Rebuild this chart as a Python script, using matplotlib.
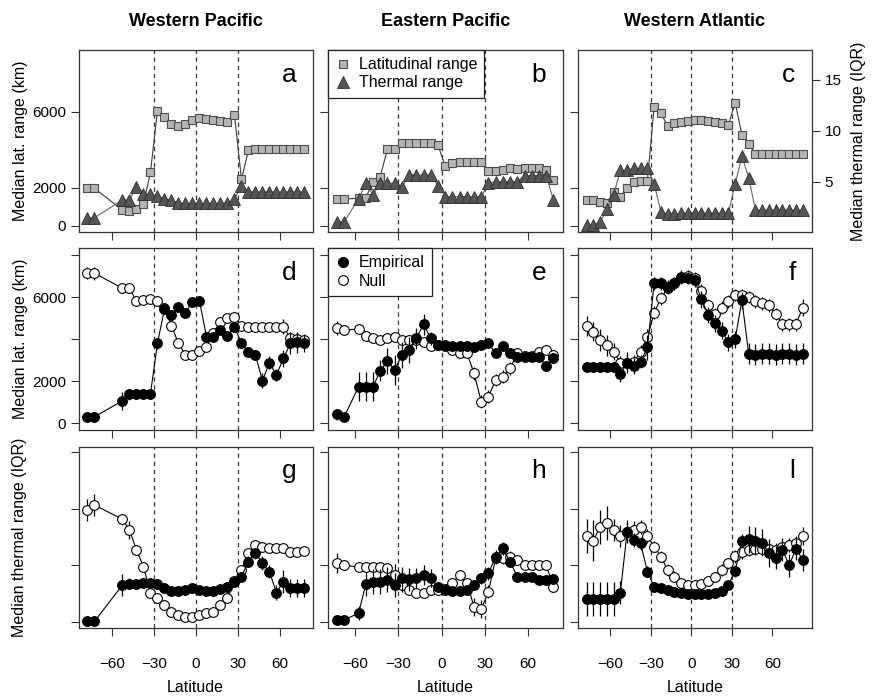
import matplotlib
matplotlib.use("Agg")
import matplotlib.pyplot as plt
from matplotlib.lines import Line2D

plt.rcParams["font.family"] = ["Liberation Sans", "DejaVu Sans"]

# ---------------- data ----------------
regions = ["Western Pacific", "Eastern Pacific", "Western Atlantic"]

# latitude bins (deg) per region
wp_lat = [-77.5, -72.5, -52.5, -47.5, -42.5, -37.5, -32.5, -27.5, -22.5, -17.5, -12.5, -7.5, -2.5,
          2.5, 7.5, 12.5, 17.5, 22.5, 27.5, 32.5, 37.5, 42.5, 47.5, 52.5, 57.5, 62.5, 67.5, 72.5, 77.5]
ep_lat = [-72.5, -67.5, -57.5, -52.5, -47.5, -42.5, -37.5, -32.5, -27.5, -22.5, -17.5, -12.5, -7.5,
          -2.5, 2.5, 7.5, 12.5, 17.5, 22.5, 27.5, 32.5, 37.5, 42.5, 47.5, 52.5, 57.5, 62.5, 67.5,
          72.5, 77.5]
wa_lat = [-77.5, -72.5, -67.5, -62.5, -57.5, -52.5, -47.5, -42.5, -37.5, -32.5, -27.5, -22.5,
          -17.5, -12.5, -7.5, -2.5, 2.5, 7.5, 12.5, 17.5, 22.5, 27.5, 32.5, 37.5, 42.5, 47.5, 52.5,
          57.5, 62.5, 67.5, 72.5, 77.5, 82.5]

# row 1: median latitudinal range (km) and median thermal range (IQR)
wp_latrange = [2000, 1980, 840, 800, 900, 1140, 2830, 6050, 5750, 5350, 5280, 5390, 5560, 5700,
               5630, 5600, 5530, 5460, 5840, 2470, 3980, 4050, 4050, 4050, 4050, 4050, 4050, 4050, 4050]
wp_thermal = [1.45, 1.45, 3.2, 3.2, 4.5, 3.75, 3.75, 3.6, 3.3, 3.2, 2.87, 2.87, 2.87, 2.87, 2.87,
              2.87, 2.87, 2.87, 3.3, 4.6, 4.0, 4.0, 4.0, 4.0, 4.0, 4.0, 4.0, 4.0, 4.0]
ep_latrange = [1420, 1420, 1460, 1490, 2330, 2600, 4050, 4050, 4350, 4370, 4370, 4370, 4370, 4260,
               3170, 3300, 3350, 3380, 3380, 3350, 2900, 2900, 2950, 3030, 2980, 3030, 3070, 3030,
               2950, 2420]
ep_thermal = [1.06, 1.06, 3.3, 4.84, 3.7, 4.84, 4.84, 4.84, 4.5, 5.65, 5.65, 5.65, 5.65, 4.6,
              3.52, 3.52, 3.52, 3.52, 3.52, 3.52, 4.84, 5.0, 5.0, 5.0, 5.0, 5.6, 5.6, 5.6, 5.6, 3.2]
wa_latrange = [1370, 1370, 1280, 1190, 1810, 1540, 2020, 2330, 2370, 2370, 6280, 5930, 5280, 5400,
               5490, 5540, 5580, 5580, 5540, 5490, 5440, 5320, 6490, 4790, 4320, 3790, 3790, 3790,
               3790, 3790, 3790, 3790, 3790]
wa_thermal = [0.74, 0.74, 1.0, 2.3, 3.7, 6.1, 6.1, 6.3, 6.3, 6.3, 4.8, 2.05, 1.8, 1.8, 1.9, 1.9,
              1.9, 1.9, 1.9, 1.9, 1.9, 1.9, 4.77, 7.5, 5.4, 2.2, 2.2, 2.2, 2.2, 2.2, 2.2, 2.2, 2.2]

# row 2: median latitudinal range (km), empirical vs null, with error bars
wp_emp_km = [310, 310, 1070, 1380, 1380, 1380, 1400, 3800, 5430, 5150, 5510, 5260, 5780, 5830, 4120,
             4090, 4430, 4150, 4590, 3800, 3400, 3250, 2030, 2880, 2300, 3090, 3800, 3850, 3800]
wp_emp_km_err = [0, 0, 430, 250, 200, 200, 150, 250, 200, 200, 200, 200, 200, 200, 200, 200, 200,
                 200, 200, 200, 200, 200, 350, 300, 300, 400, 500, 500, 400]
wp_null_km = [7150, 7130, 6420, 6420, 5810, 5860, 5910, 5810, 5500, 4640, 3800, 3250, 3250, 3450,
              3640, 4300, 4830, 4990, 5040, 4640, 4590, 4590, 4590, 4590, 4590, 4590, 4040, 4000, 3950]
wp_null_km_err = [300, 300, 200, 200, 150, 150, 150, 150, 150, 150, 150, 150, 150, 150, 150, 150,
                  150, 150, 150, 150, 150, 150, 150, 150, 150, 350, 300, 300, 300]
ep_emp_km = [430, 310, 1740, 1740, 1740, 2500, 2960, 2530, 3250, 3480, 4040, 4700, 4040, 3720, 3680,
             3680, 3680, 3680, 3650, 3720, 3800, 3330, 3670, 3330, 3170, 3170, 3170, 3170, 2720, 3090]
ep_emp_km_err = [250, 250, 700, 700, 700, 500, 600, 700, 600, 600, 500, 500, 300, 200, 150, 150,
                 150, 150, 150, 150, 200, 250, 200, 200, 150, 150, 150, 150, 250, 200]
ep_null_km = [4520, 4430, 4480, 4150, 4040, 3960, 4040, 4090, 3960, 3960, 3960, 3880, 3670, 3700,
              3700, 3500, 3350, 3350, 2380, 1030, 1270, 2060, 2220, 2610, 3330, 3200, 3200, 3400,
              3480, 3250]
ep_null_km_err = [330, 200, 150, 150, 150, 150, 150, 150, 150, 150, 150, 150, 150, 150, 150, 150,
                  200, 250, 300, 300, 300, 300, 300, 300, 250, 200, 200, 200, 200, 200]
wa_emp_km = [2660, 2660, 2660, 2660, 2660, 2340, 2880, 2720, 2930, 3610, 6650, 6650, 6490, 6650,
             6970, 6900, 6800, 5900, 5150, 4750, 4400, 3850, 4000, 5850, 3300, 3250, 3300, 3300,
             3250, 3300, 3300, 3250, 3300]
wa_emp_km_err = [150, 150, 150, 150, 150, 400, 500, 400, 300, 600, 300, 300, 300, 300, 300, 300,
                 300, 400, 400, 400, 400, 400, 400, 400, 500, 500, 500, 500, 500, 500, 500, 500, 500]
wa_null_km = [4630, 4360, 3960, 3720, 3400, 2880, 2880, 2930, 3400, 4090, 5260, 5940, 6430, 6650,
              6900, 7000, 6900, 6300, 5600, 5200, 5500, 5800, 6100, 6100, 6000, 5800, 5700, 5600,
              5200, 4700, 4700, 4700, 5500]
wa_null_km_err = [475, 450, 500, 500, 400, 300, 300, 300, 300, 400, 300, 300, 300, 300, 300, 300,
                  300, 300, 300, 300, 300, 300, 300, 300, 300, 300, 300, 300, 300, 300, 300, 300, 400]

# row 3: median thermal range (IQR), empirical vs null, with error bars
wp_emp_iqr = [0.05, 0.05, 3.27, 3.4, 3.4, 3.45, 3.45, 3.4, 2.98, 2.77, 2.77, 2.83, 2.98, 2.83, 2.77,
              2.77, 2.89, 3.12, 3.57, 4.0, 5.34, 6.08, 5.2, 4.45, 2.6, 3.57, 2.98, 3.0, 3.0]
wp_emp_iqr_err = [0.2, 0.2, 1.0, 0.5, 0.4, 0.4, 0.4, 0.4, 0.3, 0.3, 0.3, 0.3, 0.3, 0.3, 0.3, 0.3,
                  0.3, 0.3, 0.3, 0.4, 0.5, 0.5, 0.6, 0.6, 0.7, 1.0, 0.8, 0.8, 0.8]
wp_null_iqr = [9.9, 10.35, 9.09, 8.14, 6.37, 4.9, 2.54, 2.1, 1.5, 0.91, 0.62, 0.47, 0.47, 0.62, 0.77,
               0.91, 1.5, 2.1, 3.6, 4.6, 6.13, 6.8, 6.66, 6.52, 6.52, 6.52, 6.2, 6.2, 6.3]
wp_null_iqr_err = [1.0, 1.0, 0.5, 0.8, 0.4, 0.4, 0.3, 0.3, 0.3, 0.3, 0.3, 0.3, 0.3, 0.3, 0.3, 0.3,
                   0.3, 0.3, 0.3, 0.3, 0.3, 0.3, 0.3, 0.3, 0.3, 0.4, 0.3, 0.3, 0.3]
ep_emp_iqr = [0.18, 0.18, 0.77, 3.36, 3.57, 3.57, 3.72, 3.27, 3.87, 3.78, 3.87, 4.16, 3.87, 3.12,
              2.89, 2.77, 2.77, 2.83, 3.27, 3.87, 4.3, 5.78, 6.52, 5.34, 4.0, 4.0, 4.0, 3.72, 3.72, 3.78]
ep_emp_iqr_err = [0.2, 0.2, 0.6, 1.1, 1.1, 1.1, 1.1, 1.1, 1.0, 1.0, 0.9, 0.9, 0.8, 0.4, 0.3, 0.3,
                  0.3, 0.3, 0.4, 0.5, 0.6, 0.6, 0.6, 0.4, 0.3, 0.3, 0.3, 0.3, 0.3, 0.3]
ep_null_iqr = [5.19, 5.04, 4.84, 4.84, 4.84, 4.9, 4.75, 4.16, 3.27, 2.83, 2.6, 2.6, 2.83, 2.83, 2.83,
               3.48, 4.16, 3.48, 1.35, 1.15, 2.68, 5.64, 5.64, 5.78, 5.49, 5.04, 5.04, 5.04, 5.04, 3.12]
ep_null_iqr_err = [0.9, 0.4, 0.3, 0.3, 0.3, 0.3, 0.4, 1.0, 0.6, 0.4, 0.3, 0.3, 0.3, 0.3, 0.3, 0.4,
                   0.4, 0.4, 0.8, 0.8, 0.6, 0.5, 0.5, 0.5, 0.4, 0.4, 0.4, 0.4, 0.4, 0.5]
wa_emp_iqr = [2.0, 2.0, 2.0, 2.0, 2.0, 2.6, 8.0, 7.26, 6.96, 4.45, 3.12, 2.98, 2.83, 2.68, 2.54,
              2.5, 2.5, 2.5, 2.5, 2.6, 2.7, 3.3, 4.5, 7.2, 7.3, 7.2, 7.0, 6.1, 5.7, 6.4, 5.0, 6.5, 5.5]
wa_emp_iqr_err = [1.5, 1.5, 1.5, 1.5, 1.5, 1.0, 0.8, 0.6, 0.6, 0.5, 0.3, 0.3, 0.3, 0.3, 0.3, 0.3,
                  0.3, 0.3, 0.3, 0.3, 0.3, 0.3, 0.5, 0.6, 1.2, 1.2, 1.2, 1.2, 1.0, 1.0, 1.0, 1.0, 1.0]
wa_null_iqr = [7.6, 7.2, 8.43, 8.79, 8.14, 7.6, 8.0, 8.1, 8.4, 7.6, 6.66, 5.78, 4.6, 4.0, 3.42, 3.3,
               3.3, 3.4, 3.6, 4.0, 4.6, 5.2, 5.8, 6.2, 6.4, 6.5, 6.5, 6.5, 6.4, 6.6, 6.8, 7.0, 7.6]
wa_null_iqr_err = [1.5, 1.8, 1.5, 1.5, 1.0, 1.0, 1.0, 0.8, 0.6, 0.6, 0.5, 0.5, 0.5, 0.5, 0.4, 0.4,
                   0.4, 0.4, 0.4, 0.4, 0.5, 0.5, 0.6, 0.6, 0.6, 0.6, 0.6, 0.6, 0.6, 0.6, 0.6, 0.6, 0.8]

lats = [wp_lat, ep_lat, wa_lat]
top_km = [wp_latrange, ep_latrange, wa_latrange]
top_iqr = [wp_thermal, ep_thermal, wa_thermal]
mid = [(wp_emp_km, wp_emp_km_err, wp_null_km, wp_null_km_err),
       (ep_emp_km, ep_emp_km_err, ep_null_km, ep_null_km_err),
       (wa_emp_km, wa_emp_km_err, wa_null_km, wa_null_km_err)]
bot = [(wp_emp_iqr, wp_emp_iqr_err, wp_null_iqr, wp_null_iqr_err),
       (ep_emp_iqr, ep_emp_iqr_err, ep_null_iqr, ep_null_iqr_err),
       (wa_emp_iqr, wa_emp_iqr_err, wa_null_iqr, wa_null_iqr_err)]
letters = [["a", "b", "c"], ["d", "e", "f"], ["g", "h", "l"]]

# ---------------- layout ----------------
W, H = 872, 699
fig = plt.figure(figsize=(W / 100, H / 100), dpi=100)

col_x = [78.5, 328.3, 577.7]
row_y = [50, 248.3, 446.7]
pw, ph = 234.2, 181.7
xlims = [(-83.9, 83.4), (-78.5, 83.8), (-84.1, 89.3)]
ylim_km_top = (-300, 9263)
ylim_iqr_top = (0.08, 17.94)
ylim_km_mid = (-318, 8317)
ylim_iqr_bot = (-0.57, 15.51)

FRAME = "#333333"
SQ_FACE, SQ_EDGE = "#b4b4b4", "#4d4d4d"
TRI_FACE, TRI_EDGE = "#555555", "#2e2e2e"


def add_ax(c, r):
    return fig.add_axes([col_x[c] / W, 1 - (row_y[r] + ph) / H, pw / W, ph / H])


def style(ax, xlim):
    ax.set_xlim(*xlim)
    ax.set_xticks([-60, -30, 0, 30, 60])
    for s in ax.spines.values():
        s.set_color(FRAME)
        s.set_linewidth(0.9)
    ax.tick_params(direction="out", length=5.5, width=0.8, color=FRAME, labelsize=11,
                   labelcolor="black")
    ax.tick_params(axis="x", pad=15)
    for v in (-30, 0, 30):
        ax.axvline(v, color=FRAME, lw=0.9, ls=(0, (3.5, 3)), zorder=0)


for c in range(3):
    lat = lats[c]

    # --- row 1: latitudinal range + thermal range ---
    ax = add_ax(c, 0)
    style(ax, xlims[c])
    ax.set_ylim(*ylim_km_top)
    ax.set_yticks([0, 2000, 6000])
    ax.plot(lat, top_km[c], "-", color="#3a3a3a", lw=0.8, marker="s", ms=6.2,
            mfc=SQ_FACE, mec=SQ_EDGE, mew=0.8, zorder=3)
    ax2 = ax.twinx()
    ax2.set_ylim(*ylim_iqr_top)
    ax2.set_yticks([5, 10, 15])
    ax2.plot(lat, top_iqr[c], "-", color="#666666", lw=0.8, marker="^", ms=8.5,
             mfc=TRI_FACE, mec=TRI_EDGE, mew=0.6, zorder=4)
    for s in ax2.spines.values():
        s.set_visible(False)
    ax2.tick_params(direction="out", length=5.5, width=0.8, color=FRAME, labelsize=11)
    if c == 2:
        ax2.set_yticklabels(["5", "10", "15"])
    else:
        ax2.tick_params(right=False, labelright=False)
    ax.tick_params(labelbottom=False)
    if c != 0:
        ax.tick_params(labelleft=False)
    ax.text(0.93, 0.865, letters[0][c], transform=ax.transAxes, ha="right", va="center",
            fontsize=19, zorder=6)
    if c == 1:
        h1 = Line2D([], [], ls="none", marker="s", ms=6.2, mfc=SQ_FACE, mec=SQ_EDGE, mew=0.8)
        h2 = Line2D([], [], ls="none", marker="^", ms=8.5, mfc=TRI_FACE, mec=TRI_EDGE, mew=0.6)
        leg = ax2.legend([h1, h2], ["Latitudinal range", "Thermal range"], loc="upper left",
                         bbox_to_anchor=(0, 1), borderaxespad=0, fontsize=11.5, fancybox=False,
                         edgecolor="#222222", framealpha=1, handlelength=1.0, handletextpad=0.45,
                         borderpad=0.45, labelspacing=0.2)
        leg.get_frame().set_linewidth(0.9)

    # --- row 2 and row 3: empirical vs null ---
    for r, (data, ylim) in ((1, (mid[c], ylim_km_mid)), (2, (bot[c], ylim_iqr_bot))):
        ax = add_ax(c, r)
        style(ax, xlims[c])
        ax.set_ylim(*ylim)
        if r == 1:
            ax.set_yticks([0, 2000, 4000, 6000, 8000])
            ax.set_yticklabels(["0", "2000", "", "6000", ""])
            ax.tick_params(labelbottom=False)
        else:
            ax.set_yticks([0, 5, 10, 15])
            ax.set_yticklabels([])
        if c != 0:
            ax.tick_params(labelleft=False)
        emp, emp_err, null, null_err = data
        ax.errorbar(lat, null, yerr=null_err, fmt="-o", color="black", lw=0.8, ms=7,
                    mfc="white", mec="black", mew=0.8, elinewidth=0.9, capsize=0, zorder=3)
        ax.errorbar(lat, emp, yerr=emp_err, fmt="-o", color="black", lw=0.8, ms=7,
                    mfc="black", mec="black", mew=0.8, elinewidth=0.9, capsize=0, zorder=4)
        ax.text(0.93, 0.865, letters[r][c], transform=ax.transAxes, ha="right", va="center",
                fontsize=19, zorder=6)
        if r == 1 and c == 1:
            h1 = Line2D([], [], ls="none", marker="o", ms=7, mfc="black", mec="black")
            h2 = Line2D([], [], ls="none", marker="o", ms=7, mfc="white", mec="black", mew=0.8)
            leg = ax.legend([h1, h2], ["Empirical", "Null"], loc="upper left",
                            bbox_to_anchor=(0, 1), borderaxespad=0, fontsize=11.5, fancybox=False,
                            edgecolor="#222222", framealpha=1, handlelength=1.0,
                            handletextpad=0.45, borderpad=0.45, labelspacing=0.2)
            leg.get_frame().set_linewidth(0.9)

    # column title and x label
    cx = (col_x[c] + pw / 2) / W
    fig.text(cx, 1 - 22 / H, regions[c], ha="center", va="center", fontsize=13, fontweight="bold")
    fig.text(cx, 1 - 688 / H, "Latitude", ha="center", va="center", fontsize=11.5)

# y labels
fig.text(20 / W, 1 - 141 / H, "Median lat. range (km)", rotation=90, ha="center", va="center",
         fontsize=11.5)
fig.text(20 / W, 1 - 339 / H, "Median lat. range (km)", rotation=90, ha="center", va="center",
         fontsize=11.5)
fig.text(20 / W, 1 - 537.5 / H, "Median thermal range (IQR)", rotation=90, ha="center",
         va="center", fontsize=11.5)
fig.text(858 / W, 1 - 141 / H, "Median thermal range (IQR)", rotation=90, ha="center",
         va="center", fontsize=11.5)

fig.savefig("out.png", dpi=100)
